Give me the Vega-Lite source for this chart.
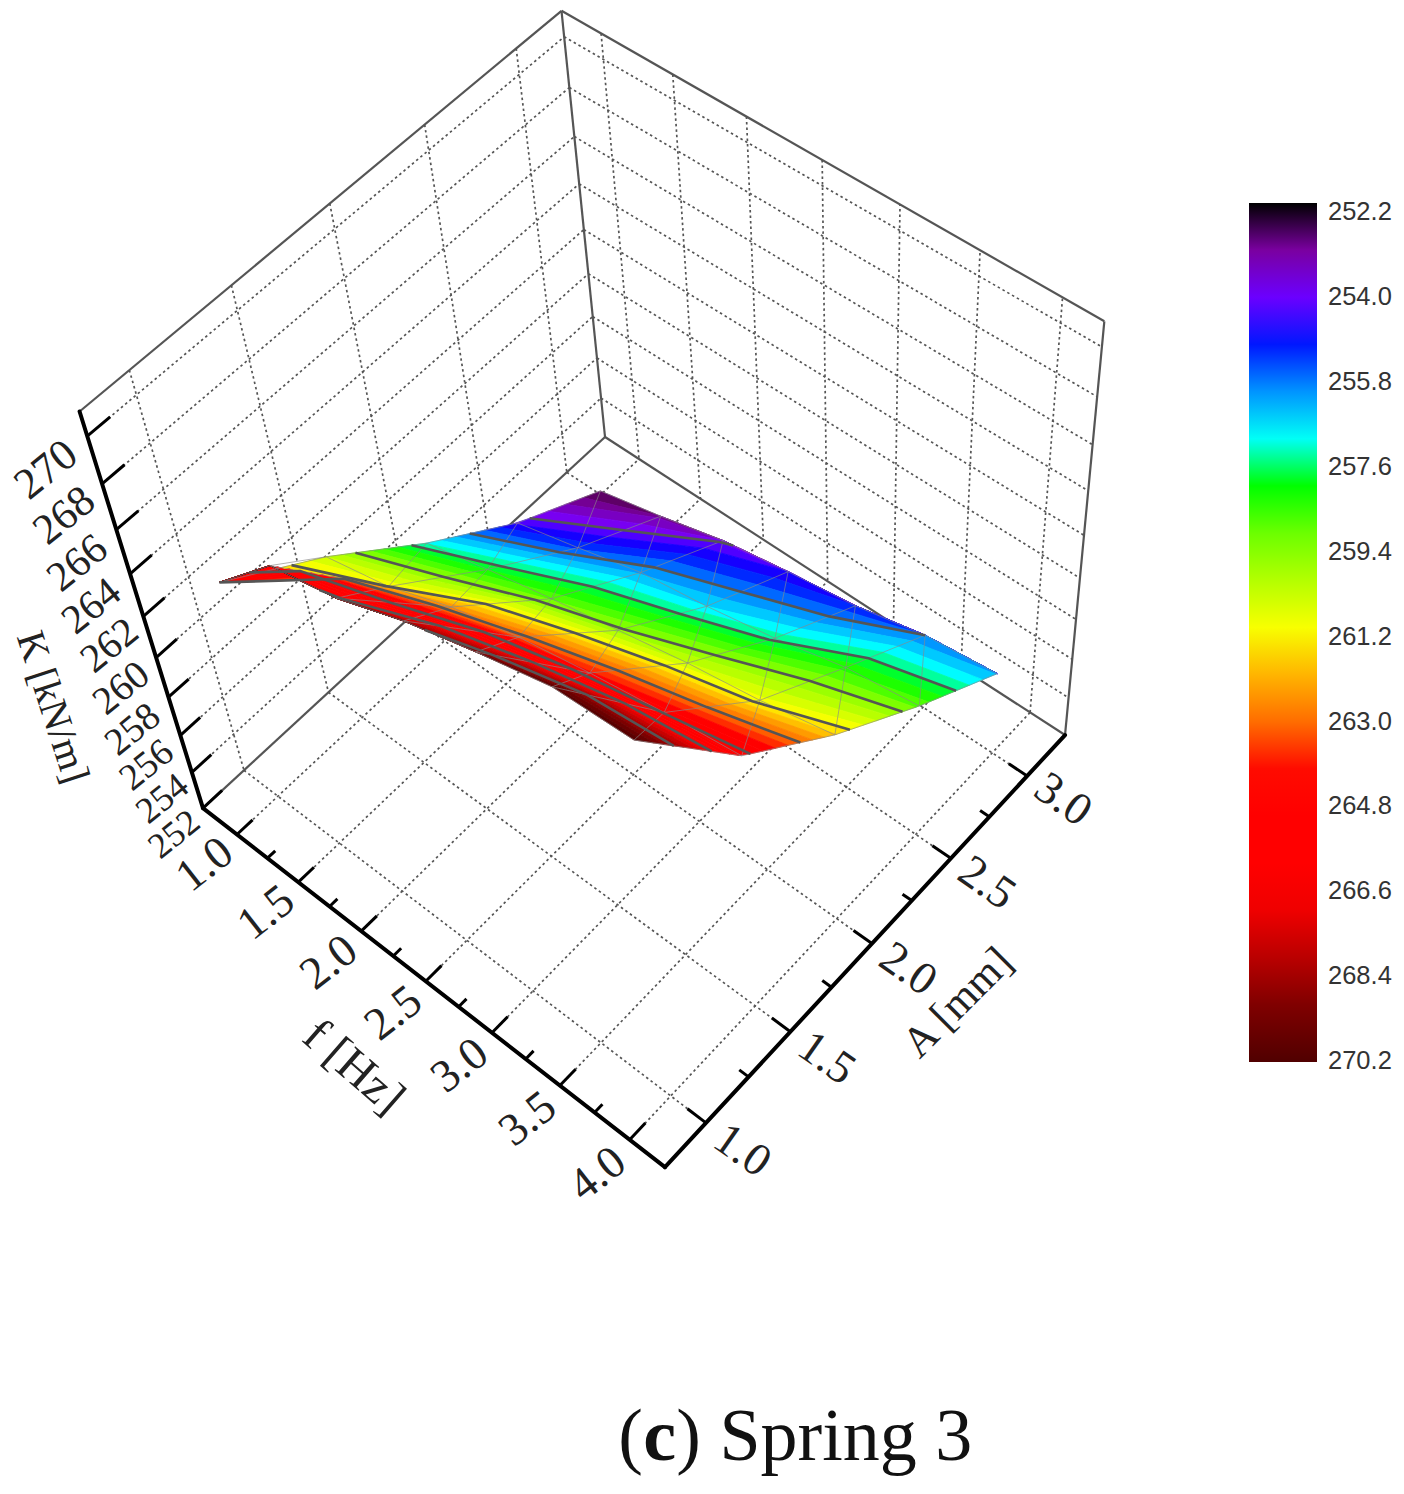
{"$schema":"https://vega.github.io/schema/vega-lite/v6.json","width":1404,"height":1494,"padding":0,"autosize":{"type":"none"},"background":"white","config":{"view":{"stroke":null},"text":{"font":"Liberation Serif","color":"#222"}},
"data":{"values":[
{"s":"m","f":1,"A":1,"K":263},{"s":"m","f":1.5,"A":1,"K":266},{"s":"m","f":2,"A":1,"K":266.8},{"s":"m","f":2.5,"A":1,"K":268.1},{"s":"m","f":3,"A":1,"K":269.1},{"s":"m","f":3.5,"A":1,"K":270},{"s":"m","f":4,"A":1,"K":270.2},
{"s":"m","f":1,"A":1.5,"K":260.3},{"s":"m","f":1.5,"A":1.5,"K":261.1},{"s":"m","f":2,"A":1.5,"K":262.4},{"s":"m","f":2.5,"A":1.5,"K":263.3},{"s":"m","f":3,"A":1.5,"K":264},{"s":"m","f":3.5,"A":1.5,"K":264.6},{"s":"m","f":4,"A":1.5,"K":265.1},
{"s":"m","f":1,"A":2,"K":257.1},{"s":"m","f":1.5,"A":2,"K":258},{"s":"m","f":2,"A":2,"K":258.8},{"s":"m","f":2.5,"A":2,"K":259.55},{"s":"m","f":3,"A":2,"K":260.3},{"s":"m","f":3.5,"A":2,"K":260.9},{"s":"m","f":4,"A":2,"K":261.7},
{"s":"m","f":1,"A":2.5,"K":254.3},{"s":"m","f":1.5,"A":2.5,"K":255.2},{"s":"m","f":2,"A":2.5,"K":256.15},{"s":"m","f":2.5,"A":2.5,"K":256.7},{"s":"m","f":3,"A":2.5,"K":257.4},{"s":"m","f":3.5,"A":2.5,"K":258.3},{"s":"m","f":4,"A":2.5,"K":258.8},
{"s":"m","f":1,"A":3,"K":252.2},{"s":"m","f":1.5,"A":3,"K":253},{"s":"m","f":2,"A":3,"K":253.9},{"s":"m","f":2.5,"A":3,"K":254.5},{"s":"m","f":3,"A":3,"K":255},{"s":"m","f":3.5,"A":3,"K":255.8},{"s":"m","f":4,"A":3,"K":256.2},

{"s":"b","n":0,"f":1,"A":3,"K":252.2},{"s":"b","n":1,"f":1,"A":2.893,"K":252.65},{"s":"b","n":2,"f":1,"A":2.786,"K":253.1},{"s":"b","n":3,"f":1,"A":2.679,"K":253.55},{"s":"b","n":4,"f":1,"A":2.571,"K":254},{"s":"b","n":5,"f":1,"A":2.473,"K":254.45},{"s":"b","n":6,"f":1,"A":2.393,"K":254.9},{"s":"b","n":7,"f":1,"A":2.313,"K":255.35},{"s":"b","n":8,"f":1,"A":2.232,"K":255.8},{"s":"b","n":9,"f":1,"A":2.152,"K":256.25},{"s":"b","n":10,"f":1,"A":2.071,"K":256.7},{"s":"b","n":11,"f":1,"A":1.992,"K":257.15},{"s":"b","n":12,"f":1,"A":1.922,"K":257.6},{"s":"b","n":13,"f":1,"A":1.852,"K":258.05},{"s":"b","n":14,"f":1,"A":1.781,"K":258.5},{"s":"b","n":15,"f":1,"A":1.711,"K":258.95},{"s":"b","n":16,"f":1,"A":1.641,"K":259.4},{"s":"b","n":17,"f":1,"A":1.57,"K":259.85},{"s":"b","n":18,"f":1,"A":1.5,"K":260.3},{"s":"b","n":19,"f":1,"A":1.417,"K":260.75},{"s":"b","n":20,"f":1,"A":1.333,"K":261.2},{"s":"b","n":21,"f":1,"A":1.25,"K":261.65},{"s":"b","n":22,"f":1,"A":1.167,"K":262.1},{"s":"b","n":23,"f":1,"A":1.083,"K":262.55},{"s":"b","n":24,"f":1,"A":1,"K":263},{"s":"b","n":25,"f":1,"A":1,"K":263},{"s":"b","n":26,"f":1,"A":1,"K":263},{"s":"b","n":27,"f":1,"A":1,"K":263},{"s":"b","n":28,"f":1,"A":1,"K":263},{"s":"b","n":29,"f":1,"A":1,"K":263},{"s":"b","n":30,"f":1,"A":1,"K":263},{"s":"b","n":31,"f":1,"A":1,"K":263},{"s":"b","n":32,"f":1,"A":1,"K":263},{"s":"b","n":33,"f":1,"A":1,"K":263},{"s":"b","n":34,"f":1,"A":1,"K":263},{"s":"b","n":35,"f":1,"A":1,"K":263},{"s":"b","n":36,"f":1,"A":1,"K":263},{"s":"b","n":37,"f":1,"A":1,"K":263},{"s":"b","n":38,"f":1,"A":1,"K":263},{"s":"b","n":39,"f":1,"A":1,"K":263},{"s":"b","n":40,"f":1,"A":1,"K":263},
{"s":"b","n":0,"f":1.5,"A":3,"K":253},{"s":"b","n":1,"f":1.5,"A":3,"K":253},{"s":"b","n":2,"f":1.5,"A":2.977,"K":253.1},{"s":"b","n":3,"f":1.5,"A":2.875,"K":253.55},{"s":"b","n":4,"f":1.5,"A":2.773,"K":254},{"s":"b","n":5,"f":1.5,"A":2.67,"K":254.45},{"s":"b","n":6,"f":1.5,"A":2.568,"K":254.9},{"s":"b","n":7,"f":1.5,"A":2.473,"K":255.35},{"s":"b","n":8,"f":1.5,"A":2.393,"K":255.8},{"s":"b","n":9,"f":1.5,"A":2.313,"K":256.25},{"s":"b","n":10,"f":1.5,"A":2.232,"K":256.7},{"s":"b","n":11,"f":1.5,"A":2.152,"K":257.15},{"s":"b","n":12,"f":1.5,"A":2.071,"K":257.6},{"s":"b","n":13,"f":1.5,"A":1.992,"K":258.05},{"s":"b","n":14,"f":1.5,"A":1.919,"K":258.5},{"s":"b","n":15,"f":1.5,"A":1.847,"K":258.95},{"s":"b","n":16,"f":1.5,"A":1.774,"K":259.4},{"s":"b","n":17,"f":1.5,"A":1.702,"K":259.85},{"s":"b","n":18,"f":1.5,"A":1.629,"K":260.3},{"s":"b","n":19,"f":1.5,"A":1.556,"K":260.75},{"s":"b","n":20,"f":1.5,"A":1.49,"K":261.2},{"s":"b","n":21,"f":1.5,"A":1.444,"K":261.65},{"s":"b","n":22,"f":1.5,"A":1.398,"K":262.1},{"s":"b","n":23,"f":1.5,"A":1.352,"K":262.55},{"s":"b","n":24,"f":1.5,"A":1.306,"K":263},{"s":"b","n":25,"f":1.5,"A":1.26,"K":263.45},{"s":"b","n":26,"f":1.5,"A":1.214,"K":263.9},{"s":"b","n":27,"f":1.5,"A":1.168,"K":264.35},{"s":"b","n":28,"f":1.5,"A":1.122,"K":264.8},{"s":"b","n":29,"f":1.5,"A":1.077,"K":265.25},{"s":"b","n":30,"f":1.5,"A":1.031,"K":265.7},{"s":"b","n":31,"f":1.5,"A":1,"K":266},{"s":"b","n":32,"f":1.5,"A":1,"K":266},{"s":"b","n":33,"f":1.5,"A":1,"K":266},{"s":"b","n":34,"f":1.5,"A":1,"K":266},{"s":"b","n":35,"f":1.5,"A":1,"K":266},{"s":"b","n":36,"f":1.5,"A":1,"K":266},{"s":"b","n":37,"f":1.5,"A":1,"K":266},{"s":"b","n":38,"f":1.5,"A":1,"K":266},{"s":"b","n":39,"f":1.5,"A":1,"K":266},{"s":"b","n":40,"f":1.5,"A":1,"K":266},
{"s":"b","n":0,"f":2,"A":3,"K":253.9},{"s":"b","n":1,"f":2,"A":3,"K":253.9},{"s":"b","n":2,"f":2,"A":3,"K":253.9},{"s":"b","n":3,"f":2,"A":3,"K":253.9},{"s":"b","n":4,"f":2,"A":2.978,"K":254},{"s":"b","n":5,"f":2,"A":2.878,"K":254.45},{"s":"b","n":6,"f":2,"A":2.778,"K":254.9},{"s":"b","n":7,"f":2,"A":2.678,"K":255.35},{"s":"b","n":8,"f":2,"A":2.578,"K":255.8},{"s":"b","n":9,"f":2,"A":2.481,"K":256.25},{"s":"b","n":10,"f":2,"A":2.396,"K":256.7},{"s":"b","n":11,"f":2,"A":2.311,"K":257.15},{"s":"b","n":12,"f":2,"A":2.226,"K":257.6},{"s":"b","n":13,"f":2,"A":2.142,"K":258.05},{"s":"b","n":14,"f":2,"A":2.057,"K":258.5},{"s":"b","n":15,"f":2,"A":1.979,"K":258.95},{"s":"b","n":16,"f":2,"A":1.917,"K":259.4},{"s":"b","n":17,"f":2,"A":1.854,"K":259.85},{"s":"b","n":18,"f":2,"A":1.792,"K":260.3},{"s":"b","n":19,"f":2,"A":1.729,"K":260.75},{"s":"b","n":20,"f":2,"A":1.667,"K":261.2},{"s":"b","n":21,"f":2,"A":1.604,"K":261.65},{"s":"b","n":22,"f":2,"A":1.542,"K":262.1},{"s":"b","n":23,"f":2,"A":1.483,"K":262.55},{"s":"b","n":24,"f":2,"A":1.432,"K":263},{"s":"b","n":25,"f":2,"A":1.381,"K":263.45},{"s":"b","n":26,"f":2,"A":1.33,"K":263.9},{"s":"b","n":27,"f":2,"A":1.278,"K":264.35},{"s":"b","n":28,"f":2,"A":1.227,"K":264.8},{"s":"b","n":29,"f":2,"A":1.176,"K":265.25},{"s":"b","n":30,"f":2,"A":1.125,"K":265.7},{"s":"b","n":31,"f":2,"A":1.074,"K":266.15},{"s":"b","n":32,"f":2,"A":1.023,"K":266.6},{"s":"b","n":33,"f":2,"A":1,"K":266.8},{"s":"b","n":34,"f":2,"A":1,"K":266.8},{"s":"b","n":35,"f":2,"A":1,"K":266.8},{"s":"b","n":36,"f":2,"A":1,"K":266.8},{"s":"b","n":37,"f":2,"A":1,"K":266.8},{"s":"b","n":38,"f":2,"A":1,"K":266.8},{"s":"b","n":39,"f":2,"A":1,"K":266.8},{"s":"b","n":40,"f":2,"A":1,"K":266.8},
{"s":"b","n":0,"f":2.5,"A":3,"K":254.5},{"s":"b","n":1,"f":2.5,"A":3,"K":254.5},{"s":"b","n":2,"f":2.5,"A":3,"K":254.5},{"s":"b","n":3,"f":2.5,"A":3,"K":254.5},{"s":"b","n":4,"f":2.5,"A":3,"K":254.5},{"s":"b","n":5,"f":2.5,"A":3,"K":254.5},{"s":"b","n":6,"f":2.5,"A":2.909,"K":254.9},{"s":"b","n":7,"f":2.5,"A":2.807,"K":255.35},{"s":"b","n":8,"f":2.5,"A":2.705,"K":255.8},{"s":"b","n":9,"f":2.5,"A":2.602,"K":256.25},{"s":"b","n":10,"f":2.5,"A":2.5,"K":256.7},{"s":"b","n":11,"f":2.5,"A":2.421,"K":257.15},{"s":"b","n":12,"f":2.5,"A":2.342,"K":257.6},{"s":"b","n":13,"f":2.5,"A":2.263,"K":258.05},{"s":"b","n":14,"f":2.5,"A":2.184,"K":258.5},{"s":"b","n":15,"f":2.5,"A":2.105,"K":258.95},{"s":"b","n":16,"f":2.5,"A":2.026,"K":259.4},{"s":"b","n":17,"f":2.5,"A":1.96,"K":259.85},{"s":"b","n":18,"f":2.5,"A":1.9,"K":260.3},{"s":"b","n":19,"f":2.5,"A":1.84,"K":260.75},{"s":"b","n":20,"f":2.5,"A":1.78,"K":261.2},{"s":"b","n":21,"f":2.5,"A":1.72,"K":261.65},{"s":"b","n":22,"f":2.5,"A":1.66,"K":262.1},{"s":"b","n":23,"f":2.5,"A":1.6,"K":262.55},{"s":"b","n":24,"f":2.5,"A":1.54,"K":263},{"s":"b","n":25,"f":2.5,"A":1.484,"K":263.45},{"s":"b","n":26,"f":2.5,"A":1.438,"K":263.9},{"s":"b","n":27,"f":2.5,"A":1.391,"K":264.35},{"s":"b","n":28,"f":2.5,"A":1.344,"K":264.8},{"s":"b","n":29,"f":2.5,"A":1.297,"K":265.25},{"s":"b","n":30,"f":2.5,"A":1.25,"K":265.7},{"s":"b","n":31,"f":2.5,"A":1.203,"K":266.15},{"s":"b","n":32,"f":2.5,"A":1.156,"K":266.6},{"s":"b","n":33,"f":2.5,"A":1.109,"K":267.05},{"s":"b","n":34,"f":2.5,"A":1.063,"K":267.5},{"s":"b","n":35,"f":2.5,"A":1.016,"K":267.95},{"s":"b","n":36,"f":2.5,"A":1,"K":268.1},{"s":"b","n":37,"f":2.5,"A":1,"K":268.1},{"s":"b","n":38,"f":2.5,"A":1,"K":268.1},{"s":"b","n":39,"f":2.5,"A":1,"K":268.1},{"s":"b","n":40,"f":2.5,"A":1,"K":268.1},
{"s":"b","n":0,"f":3,"A":3,"K":255},{"s":"b","n":1,"f":3,"A":3,"K":255},{"s":"b","n":2,"f":3,"A":3,"K":255},{"s":"b","n":3,"f":3,"A":3,"K":255},{"s":"b","n":4,"f":3,"A":3,"K":255},{"s":"b","n":5,"f":3,"A":3,"K":255},{"s":"b","n":6,"f":3,"A":3,"K":255},{"s":"b","n":7,"f":3,"A":2.927,"K":255.35},{"s":"b","n":8,"f":3,"A":2.833,"K":255.8},{"s":"b","n":9,"f":3,"A":2.74,"K":256.25},{"s":"b","n":10,"f":3,"A":2.646,"K":256.7},{"s":"b","n":11,"f":3,"A":2.552,"K":257.15},{"s":"b","n":12,"f":3,"A":2.466,"K":257.6},{"s":"b","n":13,"f":3,"A":2.388,"K":258.05},{"s":"b","n":14,"f":3,"A":2.31,"K":258.5},{"s":"b","n":15,"f":3,"A":2.233,"K":258.95},{"s":"b","n":16,"f":3,"A":2.155,"K":259.4},{"s":"b","n":17,"f":3,"A":2.078,"K":259.85},{"s":"b","n":18,"f":3,"A":2,"K":260.3},{"s":"b","n":19,"f":3,"A":1.939,"K":260.75},{"s":"b","n":20,"f":3,"A":1.878,"K":261.2},{"s":"b","n":21,"f":3,"A":1.818,"K":261.65},{"s":"b","n":22,"f":3,"A":1.757,"K":262.1},{"s":"b","n":23,"f":3,"A":1.696,"K":262.55},{"s":"b","n":24,"f":3,"A":1.635,"K":263},{"s":"b","n":25,"f":3,"A":1.574,"K":263.45},{"s":"b","n":26,"f":3,"A":1.514,"K":263.9},{"s":"b","n":27,"f":3,"A":1.466,"K":264.35},{"s":"b","n":28,"f":3,"A":1.422,"K":264.8},{"s":"b","n":29,"f":3,"A":1.377,"K":265.25},{"s":"b","n":30,"f":3,"A":1.333,"K":265.7},{"s":"b","n":31,"f":3,"A":1.289,"K":266.15},{"s":"b","n":32,"f":3,"A":1.245,"K":266.6},{"s":"b","n":33,"f":3,"A":1.201,"K":267.05},{"s":"b","n":34,"f":3,"A":1.157,"K":267.5},{"s":"b","n":35,"f":3,"A":1.113,"K":267.95},{"s":"b","n":36,"f":3,"A":1.069,"K":268.4},{"s":"b","n":37,"f":3,"A":1.025,"K":268.85},{"s":"b","n":38,"f":3,"A":1,"K":269.1},{"s":"b","n":39,"f":3,"A":1,"K":269.1},{"s":"b","n":40,"f":3,"A":1,"K":269.1},
{"s":"b","n":0,"f":3.5,"A":3,"K":255.8},{"s":"b","n":1,"f":3.5,"A":3,"K":255.8},{"s":"b","n":2,"f":3.5,"A":3,"K":255.8},{"s":"b","n":3,"f":3.5,"A":3,"K":255.8},{"s":"b","n":4,"f":3.5,"A":3,"K":255.8},{"s":"b","n":5,"f":3.5,"A":3,"K":255.8},{"s":"b","n":6,"f":3.5,"A":3,"K":255.8},{"s":"b","n":7,"f":3.5,"A":3,"K":255.8},{"s":"b","n":8,"f":3.5,"A":3,"K":255.8},{"s":"b","n":9,"f":3.5,"A":2.91,"K":256.25},{"s":"b","n":10,"f":3.5,"A":2.82,"K":256.7},{"s":"b","n":11,"f":3.5,"A":2.73,"K":257.15},{"s":"b","n":12,"f":3.5,"A":2.64,"K":257.6},{"s":"b","n":13,"f":3.5,"A":2.55,"K":258.05},{"s":"b","n":14,"f":3.5,"A":2.462,"K":258.5},{"s":"b","n":15,"f":3.5,"A":2.375,"K":258.95},{"s":"b","n":16,"f":3.5,"A":2.288,"K":259.4},{"s":"b","n":17,"f":3.5,"A":2.202,"K":259.85},{"s":"b","n":18,"f":3.5,"A":2.115,"K":260.3},{"s":"b","n":19,"f":3.5,"A":2.029,"K":260.75},{"s":"b","n":20,"f":3.5,"A":1.959,"K":261.2},{"s":"b","n":21,"f":3.5,"A":1.899,"K":261.65},{"s":"b","n":22,"f":3.5,"A":1.838,"K":262.1},{"s":"b","n":23,"f":3.5,"A":1.777,"K":262.55},{"s":"b","n":24,"f":3.5,"A":1.716,"K":263},{"s":"b","n":25,"f":3.5,"A":1.655,"K":263.45},{"s":"b","n":26,"f":3.5,"A":1.595,"K":263.9},{"s":"b","n":27,"f":3.5,"A":1.534,"K":264.35},{"s":"b","n":28,"f":3.5,"A":1.481,"K":264.8},{"s":"b","n":29,"f":3.5,"A":1.44,"K":265.25},{"s":"b","n":30,"f":3.5,"A":1.398,"K":265.7},{"s":"b","n":31,"f":3.5,"A":1.356,"K":266.15},{"s":"b","n":32,"f":3.5,"A":1.315,"K":266.6},{"s":"b","n":33,"f":3.5,"A":1.273,"K":267.05},{"s":"b","n":34,"f":3.5,"A":1.231,"K":267.5},{"s":"b","n":35,"f":3.5,"A":1.19,"K":267.95},{"s":"b","n":36,"f":3.5,"A":1.148,"K":268.4},{"s":"b","n":37,"f":3.5,"A":1.106,"K":268.85},{"s":"b","n":38,"f":3.5,"A":1.065,"K":269.3},{"s":"b","n":39,"f":3.5,"A":1.023,"K":269.75},{"s":"b","n":40,"f":3.5,"A":1,"K":270},
{"s":"b","n":0,"f":4,"A":3,"K":256.2},{"s":"b","n":1,"f":4,"A":3,"K":256.2},{"s":"b","n":2,"f":4,"A":3,"K":256.2},{"s":"b","n":3,"f":4,"A":3,"K":256.2},{"s":"b","n":4,"f":4,"A":3,"K":256.2},{"s":"b","n":5,"f":4,"A":3,"K":256.2},{"s":"b","n":6,"f":4,"A":3,"K":256.2},{"s":"b","n":7,"f":4,"A":3,"K":256.2},{"s":"b","n":8,"f":4,"A":3,"K":256.2},{"s":"b","n":9,"f":4,"A":2.99,"K":256.25},{"s":"b","n":10,"f":4,"A":2.904,"K":256.7},{"s":"b","n":11,"f":4,"A":2.817,"K":257.15},{"s":"b","n":12,"f":4,"A":2.731,"K":257.6},{"s":"b","n":13,"f":4,"A":2.644,"K":258.05},{"s":"b","n":14,"f":4,"A":2.558,"K":258.5},{"s":"b","n":15,"f":4,"A":2.474,"K":258.95},{"s":"b","n":16,"f":4,"A":2.397,"K":259.4},{"s":"b","n":17,"f":4,"A":2.319,"K":259.85},{"s":"b","n":18,"f":4,"A":2.241,"K":260.3},{"s":"b","n":19,"f":4,"A":2.164,"K":260.75},{"s":"b","n":20,"f":4,"A":2.086,"K":261.2},{"s":"b","n":21,"f":4,"A":2.009,"K":261.65},{"s":"b","n":22,"f":4,"A":1.941,"K":262.1},{"s":"b","n":23,"f":4,"A":1.875,"K":262.55},{"s":"b","n":24,"f":4,"A":1.809,"K":263},{"s":"b","n":25,"f":4,"A":1.743,"K":263.45},{"s":"b","n":26,"f":4,"A":1.676,"K":263.9},{"s":"b","n":27,"f":4,"A":1.61,"K":264.35},{"s":"b","n":28,"f":4,"A":1.544,"K":264.8},{"s":"b","n":29,"f":4,"A":1.485,"K":265.25},{"s":"b","n":30,"f":4,"A":1.441,"K":265.7},{"s":"b","n":31,"f":4,"A":1.397,"K":266.15},{"s":"b","n":32,"f":4,"A":1.353,"K":266.6},{"s":"b","n":33,"f":4,"A":1.309,"K":267.05},{"s":"b","n":34,"f":4,"A":1.265,"K":267.5},{"s":"b","n":35,"f":4,"A":1.221,"K":267.95},{"s":"b","n":36,"f":4,"A":1.176,"K":268.4},{"s":"b","n":37,"f":4,"A":1.132,"K":268.85},{"s":"b","n":38,"f":4,"A":1.088,"K":269.3},{"s":"b","n":39,"f":4,"A":1.044,"K":269.75},{"s":"b","n":40,"f":4,"A":1,"K":270.2},

{"s":"c","id":254,"f":1,"A":2.571,"K":254},{"s":"c","id":254,"f":1.5,"A":2.773,"K":254},{"s":"c","id":254,"f":2,"A":2.978,"K":254},{"s":"c","id":254,"f":2.08,"A":3,"K":254},
{"s":"c","id":255.8,"f":1,"A":2.232,"K":255.8},{"s":"c","id":255.8,"f":1.5,"A":2.393,"K":255.8},{"s":"c","id":255.8,"f":2,"A":2.578,"K":255.8},{"s":"c","id":255.8,"f":2.5,"A":2.705,"K":255.8},{"s":"c","id":255.8,"f":3,"A":2.833,"K":255.8},{"s":"c","id":255.8,"f":3.5,"A":3,"K":255.8},
{"s":"c","id":257.6,"f":1,"A":1.922,"K":257.6},{"s":"c","id":257.6,"f":1.5,"A":2.071,"K":257.6},{"s":"c","id":257.6,"f":2,"A":2.226,"K":257.6},{"s":"c","id":257.6,"f":2.5,"A":2.342,"K":257.6},{"s":"c","id":257.6,"f":3,"A":2.466,"K":257.6},{"s":"c","id":257.6,"f":3.5,"A":2.64,"K":257.6},{"s":"c","id":257.6,"f":4,"A":2.731,"K":257.6},
{"s":"c","id":259.4,"f":1,"A":1.641,"K":259.4},{"s":"c","id":259.4,"f":1.5,"A":1.774,"K":259.4},{"s":"c","id":259.4,"f":2,"A":1.917,"K":259.4},{"s":"c","id":259.4,"f":2.5,"A":2.026,"K":259.4},{"s":"c","id":259.4,"f":3,"A":2.155,"K":259.4},{"s":"c","id":259.4,"f":3.5,"A":2.288,"K":259.4},{"s":"c","id":259.4,"f":4,"A":2.397,"K":259.4},
{"s":"c","id":261.2,"f":1,"A":1.333,"K":261.2},{"s":"c","id":261.2,"f":1.5,"A":1.49,"K":261.2},{"s":"c","id":261.2,"f":2,"A":1.667,"K":261.2},{"s":"c","id":261.2,"f":2.5,"A":1.78,"K":261.2},{"s":"c","id":261.2,"f":3,"A":1.878,"K":261.2},{"s":"c","id":261.2,"f":3.5,"A":1.959,"K":261.2},{"s":"c","id":261.2,"f":4,"A":2.086,"K":261.2},
{"s":"c","id":263,"f":1,"A":1,"K":263},{"s":"c","id":263,"f":1.5,"A":1.306,"K":263},{"s":"c","id":263,"f":2,"A":1.432,"K":263},{"s":"c","id":263,"f":2.5,"A":1.54,"K":263},{"s":"c","id":263,"f":3,"A":1.635,"K":263},{"s":"c","id":263,"f":3.5,"A":1.716,"K":263},{"s":"c","id":263,"f":4,"A":1.809,"K":263},
{"s":"c","id":264.8,"f":1.3,"A":1,"K":264.8},{"s":"c","id":264.8,"f":1.5,"A":1.122,"K":264.8},{"s":"c","id":264.8,"f":2,"A":1.227,"K":264.8},{"s":"c","id":264.8,"f":2.5,"A":1.344,"K":264.8},{"s":"c","id":264.8,"f":3,"A":1.422,"K":264.8},{"s":"c","id":264.8,"f":3.5,"A":1.481,"K":264.8},{"s":"c","id":264.8,"f":4,"A":1.544,"K":264.8},
{"s":"c","id":266.6,"f":1.875,"A":1,"K":266.6},{"s":"c","id":266.6,"f":2,"A":1.023,"K":266.6},{"s":"c","id":266.6,"f":2.5,"A":1.156,"K":266.6},{"s":"c","id":266.6,"f":3,"A":1.245,"K":266.6},{"s":"c","id":266.6,"f":3.5,"A":1.315,"K":266.6},{"s":"c","id":266.6,"f":4,"A":1.353,"K":266.6},
{"s":"c","id":268.4,"f":2.65,"A":1,"K":268.4},{"s":"c","id":268.4,"f":3,"A":1.069,"K":268.4},{"s":"c","id":268.4,"f":3.5,"A":1.148,"K":268.4},{"s":"c","id":268.4,"f":4,"A":1.176,"K":268.4},

{"s":"edge","id":"e1","f":0.718,"A":0.763,"K":271},{"s":"edge","id":"e1","f":0.718,"A":3.254,"K":271},
{"s":"edge","id":"e2","f":0.718,"A":3.254,"K":271},{"s":"edge","id":"e2","f":4.248,"A":3.254,"K":271},
{"s":"edge","id":"e3","f":0.718,"A":3.254,"K":252},{"s":"edge","id":"e3","f":0.718,"A":3.254,"K":271},
{"s":"edge","id":"e4","f":4.248,"A":3.254,"K":252},{"s":"edge","id":"e4","f":4.248,"A":3.254,"K":271},
{"s":"edge","id":"e5","f":0.718,"A":0.763,"K":252},{"s":"edge","id":"e5","f":0.718,"A":3.254,"K":252},
{"s":"edge","id":"e6","f":0.718,"A":3.254,"K":252},{"s":"edge","id":"e6","f":4.248,"A":3.254,"K":252},
{"s":"axis","id":"K","f":0.718,"A":0.763,"K":252},{"s":"axis","id":"K","f":0.718,"A":0.763,"K":271},
{"s":"axis","id":"f","f":0.718,"A":0.763,"K":252},{"s":"axis","id":"f","f":4.248,"A":0.763,"K":252},
{"s":"axis","id":"A","f":4.248,"A":0.763,"K":252},{"s":"axis","id":"A","f":4.248,"A":3.254,"K":252},

{"s":"dot","id":"ff1","f":1,"A":0.763,"K":252},{"s":"dot","id":"ff1","f":1,"A":3.254,"K":252},
{"s":"dot","id":"ff2","f":1.5,"A":0.763,"K":252},{"s":"dot","id":"ff2","f":1.5,"A":3.254,"K":252},
{"s":"dot","id":"ff3","f":2,"A":0.763,"K":252},{"s":"dot","id":"ff3","f":2,"A":3.254,"K":252},
{"s":"dot","id":"ff4","f":2.5,"A":0.763,"K":252},{"s":"dot","id":"ff4","f":2.5,"A":3.254,"K":252},
{"s":"dot","id":"ff5","f":3,"A":0.763,"K":252},{"s":"dot","id":"ff5","f":3,"A":3.254,"K":252},
{"s":"dot","id":"ff6","f":3.5,"A":0.763,"K":252},{"s":"dot","id":"ff6","f":3.5,"A":3.254,"K":252},
{"s":"dot","id":"ff7","f":4,"A":0.763,"K":252},{"s":"dot","id":"ff7","f":4,"A":3.254,"K":252},
{"s":"dot","id":"fa1","f":0.718,"A":1,"K":252},{"s":"dot","id":"fa1","f":4.248,"A":1,"K":252},
{"s":"dot","id":"fa2","f":0.718,"A":1.5,"K":252},{"s":"dot","id":"fa2","f":4.248,"A":1.5,"K":252},
{"s":"dot","id":"fa3","f":0.718,"A":2,"K":252},{"s":"dot","id":"fa3","f":4.248,"A":2,"K":252},
{"s":"dot","id":"fa4","f":0.718,"A":2.5,"K":252},{"s":"dot","id":"fa4","f":4.248,"A":2.5,"K":252},
{"s":"dot","id":"fa5","f":0.718,"A":3,"K":252},{"s":"dot","id":"fa5","f":4.248,"A":3,"K":252},
{"s":"dot","id":"la1","f":0.718,"A":1,"K":252},{"s":"dot","id":"la1","f":0.718,"A":1,"K":271},
{"s":"dot","id":"la2","f":0.718,"A":1.5,"K":252},{"s":"dot","id":"la2","f":0.718,"A":1.5,"K":271},
{"s":"dot","id":"la3","f":0.718,"A":2,"K":252},{"s":"dot","id":"la3","f":0.718,"A":2,"K":271},
{"s":"dot","id":"la4","f":0.718,"A":2.5,"K":252},{"s":"dot","id":"la4","f":0.718,"A":2.5,"K":271},
{"s":"dot","id":"la5","f":0.718,"A":3,"K":252},{"s":"dot","id":"la5","f":0.718,"A":3,"K":271},
{"s":"dot","id":"bf1","f":1,"A":3.254,"K":252},{"s":"dot","id":"bf1","f":1,"A":3.254,"K":271},
{"s":"dot","id":"bf2","f":1.5,"A":3.254,"K":252},{"s":"dot","id":"bf2","f":1.5,"A":3.254,"K":271},
{"s":"dot","id":"bf3","f":2,"A":3.254,"K":252},{"s":"dot","id":"bf3","f":2,"A":3.254,"K":271},
{"s":"dot","id":"bf4","f":2.5,"A":3.254,"K":252},{"s":"dot","id":"bf4","f":2.5,"A":3.254,"K":271},
{"s":"dot","id":"bf5","f":3,"A":3.254,"K":252},{"s":"dot","id":"bf5","f":3,"A":3.254,"K":271},
{"s":"dot","id":"bf6","f":3.5,"A":3.254,"K":252},{"s":"dot","id":"bf6","f":3.5,"A":3.254,"K":271},
{"s":"dot","id":"bf7","f":4,"A":3.254,"K":252},{"s":"dot","id":"bf7","f":4,"A":3.254,"K":271},
{"s":"dot","id":"lk254","f":0.718,"A":0.763,"K":254},{"s":"dot","id":"lk254","f":0.718,"A":3.254,"K":254},
{"s":"dot","id":"lk256","f":0.718,"A":0.763,"K":256},{"s":"dot","id":"lk256","f":0.718,"A":3.254,"K":256},
{"s":"dot","id":"lk258","f":0.718,"A":0.763,"K":258},{"s":"dot","id":"lk258","f":0.718,"A":3.254,"K":258},
{"s":"dot","id":"lk260","f":0.718,"A":0.763,"K":260},{"s":"dot","id":"lk260","f":0.718,"A":3.254,"K":260},
{"s":"dot","id":"lk262","f":0.718,"A":0.763,"K":262},{"s":"dot","id":"lk262","f":0.718,"A":3.254,"K":262},
{"s":"dot","id":"lk264","f":0.718,"A":0.763,"K":264},{"s":"dot","id":"lk264","f":0.718,"A":3.254,"K":264},
{"s":"dot","id":"lk266","f":0.718,"A":0.763,"K":266},{"s":"dot","id":"lk266","f":0.718,"A":3.254,"K":266},
{"s":"dot","id":"lk268","f":0.718,"A":0.763,"K":268},{"s":"dot","id":"lk268","f":0.718,"A":3.254,"K":268},
{"s":"dot","id":"lk270","f":0.718,"A":0.763,"K":270},{"s":"dot","id":"lk270","f":0.718,"A":3.254,"K":270},
{"s":"dot","id":"bk254","f":0.718,"A":3.254,"K":254},{"s":"dot","id":"bk254","f":4.248,"A":3.254,"K":254},
{"s":"dot","id":"bk256","f":0.718,"A":3.254,"K":256},{"s":"dot","id":"bk256","f":4.248,"A":3.254,"K":256},
{"s":"dot","id":"bk258","f":0.718,"A":3.254,"K":258},{"s":"dot","id":"bk258","f":4.248,"A":3.254,"K":258},
{"s":"dot","id":"bk260","f":0.718,"A":3.254,"K":260},{"s":"dot","id":"bk260","f":4.248,"A":3.254,"K":260},
{"s":"dot","id":"bk262","f":0.718,"A":3.254,"K":262},{"s":"dot","id":"bk262","f":4.248,"A":3.254,"K":262},
{"s":"dot","id":"bk264","f":0.718,"A":3.254,"K":264},{"s":"dot","id":"bk264","f":4.248,"A":3.254,"K":264},
{"s":"dot","id":"bk266","f":0.718,"A":3.254,"K":266},{"s":"dot","id":"bk266","f":4.248,"A":3.254,"K":266},
{"s":"dot","id":"bk268","f":0.718,"A":3.254,"K":268},{"s":"dot","id":"bk268","f":4.248,"A":3.254,"K":268},
{"s":"dot","id":"bk270","f":0.718,"A":3.254,"K":270},{"s":"dot","id":"bk270","f":4.248,"A":3.254,"K":270},

{"s":"tick","id":"tf1","f":1,"A":0.763,"K":252},{"s":"tick","id":"tf1","f":1,"A":0.853,"K":252},
{"s":"tick","id":"tf2","f":1.5,"A":0.763,"K":252},{"s":"tick","id":"tf2","f":1.5,"A":0.853,"K":252},
{"s":"tick","id":"tf3","f":2,"A":0.763,"K":252},{"s":"tick","id":"tf3","f":2,"A":0.853,"K":252},
{"s":"tick","id":"tf4","f":2.5,"A":0.763,"K":252},{"s":"tick","id":"tf4","f":2.5,"A":0.853,"K":252},
{"s":"tick","id":"tf5","f":3,"A":0.763,"K":252},{"s":"tick","id":"tf5","f":3,"A":0.853,"K":252},
{"s":"tick","id":"tf6","f":3.5,"A":0.763,"K":252},{"s":"tick","id":"tf6","f":3.5,"A":0.853,"K":252},
{"s":"tick","id":"tf7","f":4,"A":0.763,"K":252},{"s":"tick","id":"tf7","f":4,"A":0.853,"K":252},
{"s":"tick","id":"mf1","f":1.25,"A":0.763,"K":252},{"s":"tick","id":"mf1","f":1.25,"A":0.808,"K":252},
{"s":"tick","id":"mf2","f":1.75,"A":0.763,"K":252},{"s":"tick","id":"mf2","f":1.75,"A":0.808,"K":252},
{"s":"tick","id":"mf3","f":2.25,"A":0.763,"K":252},{"s":"tick","id":"mf3","f":2.25,"A":0.808,"K":252},
{"s":"tick","id":"mf4","f":2.75,"A":0.763,"K":252},{"s":"tick","id":"mf4","f":2.75,"A":0.808,"K":252},
{"s":"tick","id":"mf5","f":3.25,"A":0.763,"K":252},{"s":"tick","id":"mf5","f":3.25,"A":0.808,"K":252},
{"s":"tick","id":"mf6","f":3.75,"A":0.763,"K":252},{"s":"tick","id":"mf6","f":3.75,"A":0.808,"K":252},
{"s":"tick","id":"ta1","f":4.248,"A":1,"K":252},{"s":"tick","id":"ta1","f":4.118,"A":1,"K":252},
{"s":"tick","id":"ta2","f":4.248,"A":1.5,"K":252},{"s":"tick","id":"ta2","f":4.118,"A":1.5,"K":252},
{"s":"tick","id":"ta3","f":4.248,"A":2,"K":252},{"s":"tick","id":"ta3","f":4.118,"A":2,"K":252},
{"s":"tick","id":"ta4","f":4.248,"A":2.5,"K":252},{"s":"tick","id":"ta4","f":4.118,"A":2.5,"K":252},
{"s":"tick","id":"ta5","f":4.248,"A":3,"K":252},{"s":"tick","id":"ta5","f":4.118,"A":3,"K":252},
{"s":"tick","id":"ma1","f":4.248,"A":1.25,"K":252},{"s":"tick","id":"ma1","f":4.183,"A":1.25,"K":252},
{"s":"tick","id":"ma2","f":4.248,"A":1.75,"K":252},{"s":"tick","id":"ma2","f":4.183,"A":1.75,"K":252},
{"s":"tick","id":"ma3","f":4.248,"A":2.25,"K":252},{"s":"tick","id":"ma3","f":4.183,"A":2.25,"K":252},
{"s":"tick","id":"ma4","f":4.248,"A":2.75,"K":252},{"s":"tick","id":"ma4","f":4.183,"A":2.75,"K":252},
{"s":"tick","id":"tk252","f":0.718,"A":0.763,"K":252},{"s":"tick","id":"tk252","f":0.718,"A":0.873,"K":252},
{"s":"tick","id":"tk254","f":0.718,"A":0.763,"K":254},{"s":"tick","id":"tk254","f":0.718,"A":0.873,"K":254},
{"s":"tick","id":"tk256","f":0.718,"A":0.763,"K":256},{"s":"tick","id":"tk256","f":0.718,"A":0.873,"K":256},
{"s":"tick","id":"tk258","f":0.718,"A":0.763,"K":258},{"s":"tick","id":"tk258","f":0.718,"A":0.873,"K":258},
{"s":"tick","id":"tk260","f":0.718,"A":0.763,"K":260},{"s":"tick","id":"tk260","f":0.718,"A":0.873,"K":260},
{"s":"tick","id":"tk262","f":0.718,"A":0.763,"K":262},{"s":"tick","id":"tk262","f":0.718,"A":0.873,"K":262},
{"s":"tick","id":"tk264","f":0.718,"A":0.763,"K":264},{"s":"tick","id":"tk264","f":0.718,"A":0.873,"K":264},
{"s":"tick","id":"tk266","f":0.718,"A":0.763,"K":266},{"s":"tick","id":"tk266","f":0.718,"A":0.873,"K":266},
{"s":"tick","id":"tk268","f":0.718,"A":0.763,"K":268},{"s":"tick","id":"tk268","f":0.718,"A":0.873,"K":268},
{"s":"tick","id":"tk270","f":0.718,"A":0.763,"K":270},{"s":"tick","id":"tk270","f":0.718,"A":0.873,"K":270},

{"s":"lf","label":"1.0","f":1,"A":0.58,"K":252},{"s":"lf","label":"1.5","f":1.5,"A":0.58,"K":252},{"s":"lf","label":"2.0","f":2,"A":0.58,"K":252},{"s":"lf","label":"2.5","f":2.5,"A":0.58,"K":252},{"s":"lf","label":"3.0","f":3,"A":0.58,"K":252},{"s":"lf","label":"3.5","f":3.5,"A":0.58,"K":252},{"s":"lf","label":"4.0","f":4,"A":0.58,"K":252},
{"s":"la","label":"1.0","f":4.5,"A":1,"K":252},{"s":"la","label":"1.5","f":4.5,"A":1.5,"K":252},{"s":"la","label":"2.0","f":4.5,"A":2,"K":252},{"s":"la","label":"2.5","f":4.5,"A":2.5,"K":252},{"s":"la","label":"3.0","f":4.5,"A":3,"K":252},
{"s":"lk","label":"252","f":0.718,"A":0.6,"K":252},{"s":"lk","label":"254","f":0.718,"A":0.6,"K":254},{"s":"lk","label":"256","f":0.718,"A":0.58,"K":256},{"s":"lk","label":"258","f":0.718,"A":0.57,"K":258},{"s":"lk","label":"260","f":0.718,"A":0.58,"K":260},{"s":"lk","label":"262","f":0.718,"A":0.59,"K":262},{"s":"lk","label":"264","f":0.718,"A":0.57,"K":264},{"s":"lk","label":"266","f":0.718,"A":0.57,"K":266},{"s":"lk","label":"268","f":0.718,"A":0.58,"K":268},{"s":"lk","label":"270","f":0.718,"A":0.57,"K":270},
{"s":"tf","label":"f [Hz]","f":2.56,"A":0.31,"K":252},
{"s":"ta","label":"A [mm]","f":4.836,"A":2.005,"K":252},
{"s":"tk","label":"K [kN/m]","f":0.718,"A":0.281,"K":261.6},
{"s":"cap","label":"(","f":5.78,"A":0.207,"K":252},
{"s":"capb","label":"c","f":5.78,"A":0.207,"K":252},
{"s":"cape","label":") Spring 3","f":5.78,"A":0.207,"K":252}
]},
"transform":[
{"calculate":"0.08+(datum.f-1)*0.2833","as":"u"},
{"calculate":"0.095+(datum.A-1)*0.4015","as":"v"},
{"calculate":"(datum.K-252)/19","as":"w"},
{"calculate":"1-0.0864*datum.u+0.0795*datum.v-0.1585*datum.w","as":"den"},
{"calculate":"(203+404.5*datum.u+450.1*datum.v-136*datum.w)/datum.den","as":"sx"},
{"calculate":"(808+258.2*datum.u-336.3*datum.v-461.8*datum.w)/datum.den","as":"sy"}
],
"encoding":{
"x":{"field":"sx","type":"quantitative","axis":null,"scale":{"domain":[0,1404],"nice":false,"zero":false}},
"y":{"field":"sy","type":"quantitative","axis":null,"scale":{"domain":[1494,0],"nice":false,"zero":false}}
},
"layer":[
{"transform":[{"filter":"datum.s=='dot'"}],"mark":{"type":"line","stroke":"#555","strokeWidth":1.7,"strokeDash":[2.5,3]},"encoding":{"detail":{"field":"id"}}},
{"transform":[{"filter":"datum.s=='edge'"}],"mark":{"type":"line","stroke":"#555","strokeWidth":2.2},"encoding":{"detail":{"field":"id"}}},
{"transform":[{"filter":"datum.s=='axis'"}],"mark":{"type":"line","stroke":"#000","strokeWidth":4,"strokeCap":"round"},"encoding":{"detail":{"field":"id"}}},
{"transform":[{"filter":"datum.s=='tick'"}],"mark":{"type":"line","stroke":"#000","strokeWidth":3},"encoding":{"detail":{"field":"id"}}},
{"transform":[{"filter":"datum.s=='b'"},
{"calculate":"[0,1]","as":"side"},{"flatten":["side"]},
{"calculate":"datum.side==0?datum.n:datum.n-1","as":"band"},
{"filter":"datum.band>=0 && datum.band<40"},
{"calculate":"datum.side==0?datum.f:10-datum.f","as":"ord"},
{"calculate":"252.2+0.45*(datum.band+0.5)","as":"Kc"},
{"calculate":"datum.Kc","as":"Ks"}],
"mark":{"type":"line","interpolate":"linear-closed","strokeWidth":0.8},
"encoding":{"detail":{"field":"band"},"order":{"field":"ord"},
"fill":{"field":"Kc","type":"quantitative","scale":{"domain":[270.22,269,267.9,266.7,264.1,263.2,262.25,261.1,260.2,259.2,258,257.5,256.96,255.96,255.5,254.84,253.9,253,252.25,252.2,252],"range":["#500000","#800000","#c00000","#ff0000","#ff0000","#ff6000","#ffa000","#ffff00","#c0ff00","#80ff00","#00ff00","#00ff80","#00ffff","#0090ff","#0060ff","#0000ff","#7800ff","#7a00a0","#550055","#000000","#000000"],"interpolate":"rgb"},
"legend":{"type":"gradient","orient":"none","legendX":1249,"legendY":203,"title":null,"direction":"vertical","gradientLength":859,"gradientThickness":68,"gradientStrokeWidth":0,"values":[252.2,254,255.8,257.6,259.4,261.2,263,264.8,266.6,268.4,270.2],"format":".1f","labelFont":"Liberation Sans","labelFontSize":25.5,"labelColor":"#333","labelOffset":11,"labelOverlap":false,"tickCount":120}},
"stroke":{"field":"Ks","type":"quantitative","legend":null,"scale":{"domain":[270.21,269,267.9,266.7,264.1,263.2,262.25,261.1,260.2,259.2,258,257.5,256.96,255.96,255.5,254.84,253.9,253,252.25,252.2,252],"range":["#500000","#800000","#c00000","#ff0000","#ff0000","#ff6000","#ffa000","#ffff00","#c0ff00","#80ff00","#00ff00","#00ff80","#00ffff","#0090ff","#0060ff","#0000ff","#7800ff","#7a00a0","#550055","#000000","#000000"],"interpolate":"rgb"}}}},
{"transform":[{"filter":"datum.s=='m'"}],"mark":{"type":"line","stroke":"#888","strokeWidth":1,"opacity":0.65},"encoding":{"detail":{"field":"f"},"order":{"field":"A"}}},
{"transform":[{"filter":"datum.s=='m'"}],"mark":{"type":"line","stroke":"#888","strokeWidth":1,"opacity":0.65},"encoding":{"detail":{"field":"A"},"order":{"field":"f"}}},
{"transform":[{"filter":"datum.s=='m'"},{"calculate":"datum.f+datum.A","as":"dg"}],"mark":{"type":"line","stroke":"#888","strokeWidth":1,"opacity":0.65},"encoding":{"detail":{"field":"dg"},"order":{"field":"f"}}},
{"transform":[{"filter":"datum.s=='c'"}],"mark":{"type":"line","stroke":"#555","strokeWidth":2.6},"encoding":{"detail":{"field":"id"},"order":{"field":"f"}}},
{"transform":[{"filter":"datum.s=='lf'"}],"mark":{"type":"text","angle":322,"fontSize":46},"encoding":{"text":{"field":"label"}}},
{"transform":[{"filter":"datum.s=='la'"}],"mark":{"type":"text","angle":35,"fontSize":46},"encoding":{"text":{"field":"label"}}},
{"transform":[{"filter":"datum.s=='lk'"}],"mark":{"type":"text","angle":321},"encoding":{"text":{"field":"label"},"size":{"field":"K","type":"quantitative","legend":null,"scale":{"domain":[252,270],"range":[36,44],"zero":false}}}},
{"transform":[{"filter":"datum.s=='tf'"}],"mark":{"type":"text","angle":41,"fontSize":48},"encoding":{"text":{"field":"label"}}},
{"transform":[{"filter":"datum.s=='ta'"}],"mark":{"type":"text","angle":315,"fontSize":43},"encoding":{"text":{"field":"label"}}},
{"transform":[{"filter":"datum.s=='tk'"}],"mark":{"type":"text","angle":72,"fontSize":40},"encoding":{"text":{"field":"label"}}},
{"transform":[{"filter":"datum.s=='cap'"}],"mark":{"type":"text","align":"left","baseline":"alphabetic","fontSize":74,"dx":-177,"color":"#111"},"encoding":{"text":{"field":"label"}}},
{"transform":[{"filter":"datum.s=='capb'"}],"mark":{"type":"text","align":"left","baseline":"alphabetic","fontSize":74,"fontWeight":"bold","dx":-152,"color":"#111"},"encoding":{"text":{"field":"label"}}},
{"transform":[{"filter":"datum.s=='cape'"}],"mark":{"type":"text","align":"left","baseline":"alphabetic","fontSize":74,"dx":-119,"color":"#111"},"encoding":{"text":{"field":"label"}}}
]}
